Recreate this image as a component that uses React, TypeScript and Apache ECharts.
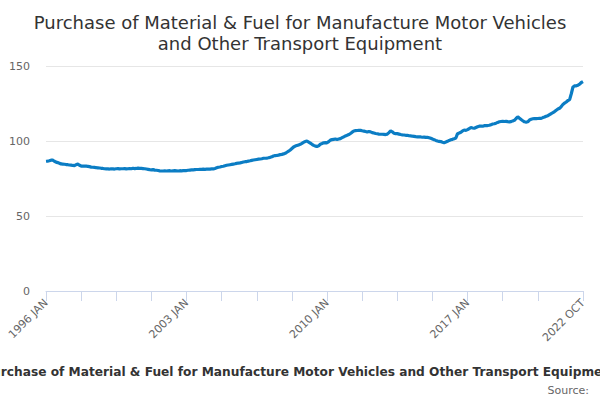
import React, { useEffect, useRef } from "react";
import * as echarts from "echarts";

const monthNames = ["JAN", "FEB", "MAR", "APR", "MAY", "JUN", "JUL", "AUG", "SEP", "OCT", "NOV", "DEC"];
const startYear = 1996;
const lastYear = 2022;
const lastMonthCount = 10;

const v1996 = [86.5, 86.6, 86.8, 87.2, 87.2, 86.5, 85.9, 85.6, 85.2, 84.7, 84.6, 84.5];
const v1997 = [84.3, 84.2, 84.0, 83.9, 83.7, 83.6, 84.2, 84.6, 83.8, 83.3, 83.3, 83.2];
const v1998 = [83.2, 83.1, 82.9, 82.6, 82.5, 82.4, 82.2, 82.1, 82.0, 81.8, 81.7, 81.5];
const v1999 = [81.4, 81.4, 81.3, 81.5, 81.4, 81.3, 81.5, 81.6, 81.4, 81.5, 81.5, 81.6];
const v2000 = [81.4, 81.5, 81.7, 81.5, 81.8, 81.6, 81.7, 81.9, 81.8, 81.7, 81.6, 81.5];
const v2001 = [81.3, 81.1, 80.9, 80.8, 80.9, 80.6, 80.5, 80.3, 80.1, 80.0, 80.0, 80.1];
const v2002 = [80.0, 80.1, 80.2, 80.0, 80.1, 80.2, 80.1, 80.0, 80.2, 80.1, 80.2, 80.3];
const v2003 = [80.3, 80.5, 80.6, 80.7, 80.8, 80.9, 81.0, 81.0, 81.1, 81.1, 81.2, 81.1];
const v2004 = [81.2, 81.3, 81.3, 81.4, 81.4, 81.7, 82.1, 82.5, 82.7, 83.0, 83.2, 83.5];
const v2005 = [83.8, 84.0, 84.2, 84.4, 84.6, 84.8, 85.1, 85.3, 85.4, 85.7, 86.0, 86.2];
const v2006 = [86.3, 86.6, 86.8, 87.1, 87.3, 87.5, 87.7, 87.9, 88.0, 88.2, 88.5, 88.5];
const v2007 = [88.6, 88.8, 89.1, 89.5, 90.0, 90.3, 90.4, 90.6, 90.9, 91.1, 91.4, 91.8];
const v2008 = [92.5, 93.2, 94.0, 95.0, 96.0, 96.6, 97.0, 97.4, 97.8, 98.4, 99.2, 99.6];
const v2009 = [100.0, 99.3, 98.6, 97.8, 97.1, 96.6, 96.4, 96.8, 97.9, 98.3, 98.8, 98.9];
const v2010 = [98.8, 99.6, 100.6, 100.9, 101.1, 101.3, 101.0, 101.3, 101.6, 102.2, 102.8, 103.4];
const v2011 = [103.8, 104.3, 105.0, 105.9, 106.7, 106.9, 107.0, 107.1, 107.1, 106.8, 106.6, 106.3];
const v2012 = [106.0, 106.3, 106.1, 105.6, 105.3, 105.0, 104.8, 104.6, 104.5, 104.5, 104.4, 104.3];
const v2013 = [104.6, 105.6, 106.7, 106.1, 105.2, 104.9, 104.9, 104.6, 104.3, 104.1, 104.0, 103.8];
const v2014 = [103.8, 103.5, 103.4, 103.2, 103.1, 102.9, 102.8, 102.7, 102.7, 102.5, 102.6, 102.4];
const v2015 = [102.4, 102.2, 101.8, 101.3, 100.9, 100.4, 100.0, 99.7, 99.6, 99.2, 98.9, 99.3];
const v2016 = [99.8, 100.4, 100.8, 101.1, 101.5, 102.0, 104.9, 105.3, 105.8, 106.7, 107.3, 107.1];
const v2017 = [107.6, 108.3, 109.0, 108.7, 108.5, 109.0, 109.5, 109.9, 110.0, 109.8, 110.2, 110.3];
const v2018 = [110.3, 110.5, 110.9, 111.3, 111.5, 111.9, 112.4, 112.8, 113.0, 113.2, 113.0, 113.1];
const v2019 = [112.9, 112.8, 112.9, 113.4, 113.8, 115.0, 116.1, 115.2, 114.3, 113.5, 112.8, 112.6];
const v2020 = [112.8, 114.0, 114.5, 114.8, 115.0, 114.9, 115.0, 115.1, 115.1, 115.6, 116.0, 116.5];
const v2021 = [116.9, 117.6, 118.3, 118.9, 119.6, 120.5, 121.3, 121.8, 122.9, 124.4, 125.3, 126.0];
const v2022 = [127.0, 127.6, 131.5, 136.0, 136.7, 136.8, 137.2, 137.9, 139.0, 139.6];

const yearly = [
  v1996, v1997, v1998, v1999, v2000, v2001, v2002, v2003, v2004, v2005, v2006, v2007, v2008, v2009,
  v2010, v2011, v2012, v2013, v2014, v2015, v2016, v2017, v2018, v2019, v2020, v2021, v2022,
];

const values: number[] = ([] as number[]).concat(...yearly);

const categories: string[] = [];
for (let y = startYear; y <= lastYear; y++) {
  const n = y === lastYear ? lastMonthCount : 12;
  for (let m = 0; m < n; m++) categories.push(`${y} ${monthNames[m]}`);
}

const yTicks = [0, 50, 100, 150];
const titleText = "Purchase of Material & Fuel for Manufacture Motor Vehicles\nand Other Transport Equipment";
const footerText = "Purchase of Material & Fuel for Manufacture Motor Vehicles and Other Transport Equipment";
const sourceText = "Source:";

export default function App() {
  const ref = useRef<HTMLDivElement>(null);
  useEffect(() => {
    document.body.style.margin = "0";
    if (!ref.current) return;
    const chart = echarts.init(ref.current, undefined, { renderer: "svg" });
    const lastIdx = categories.length - 1;
    const font = "DejaVu Sans, Verdana, sans-serif";
    chart.setOption({
      animation: false,
      backgroundColor: "#ffffff",
      textStyle: { fontFamily: font },
      title: {
        text: titleText,
        left: "center",
        top: 7,
        textStyle: { fontSize: 18, fontWeight: "normal", color: "#333333", lineHeight: 21, fontFamily: font },
      },
      grid: { left: 46, right: 17, top: 66, bottom: 109, containLabel: false },
      xAxis: {
        type: "category",
        data: categories,
        boundaryGap: false,
        axisLine: { lineStyle: { color: "#ccd6eb", width: 1 } },
        axisTick: {
          length: 10,
          lineStyle: { color: "#ccd6eb" },
          interval: (i: number) => (i % 21 === 0 && i <= 294) || i === lastIdx,
        },
        axisLabel: {
          rotate: 45,
          color: "#666666",
          fontSize: 11,
          margin: 10,
          fontFamily: font,
          interval: (i: number) => i % 84 === 0 || i === lastIdx,
        },
        splitLine: { show: false },
      },
      yAxis: {
        type: "value",
        min: yTicks[0],
        max: yTicks[yTicks.length - 1],
        interval: 50,
        axisLine: { show: false },
        axisTick: { show: false },
        axisLabel: { color: "#666666", fontSize: 11, margin: 16, fontFamily: font },
        splitLine: { lineStyle: { color: "#e6e6e6", width: 1 } },
      },
      series: [
        {
          type: "line",
          data: values,
          showSymbol: false,
          lineStyle: { color: "#0b7dc4", width: 3.2 },
          itemStyle: { color: "#0b7dc4" },
        },
      ],
      graphic: [
        {
          type: "text",
          x: 300,
          y: 372,
          style: {
            text: footerText,
            fontSize: 12.2,
            fontWeight: "bold",
            fill: "#333333",
            fontFamily: font,
            textAlign: "center",
            textVerticalAlign: "middle",
          },
        },
        {
          type: "text",
          x: 589,
          y: 390,
          style: {
            text: sourceText,
            fontSize: 11,
            fill: "#666666",
            fontFamily: font,
            textAlign: "right",
            textVerticalAlign: "middle",
          },
        },
      ],
    });
    return () => chart.dispose();
  }, []);
  return <div ref={ref} style={{ width: 600, height: 400 }} />;
}
